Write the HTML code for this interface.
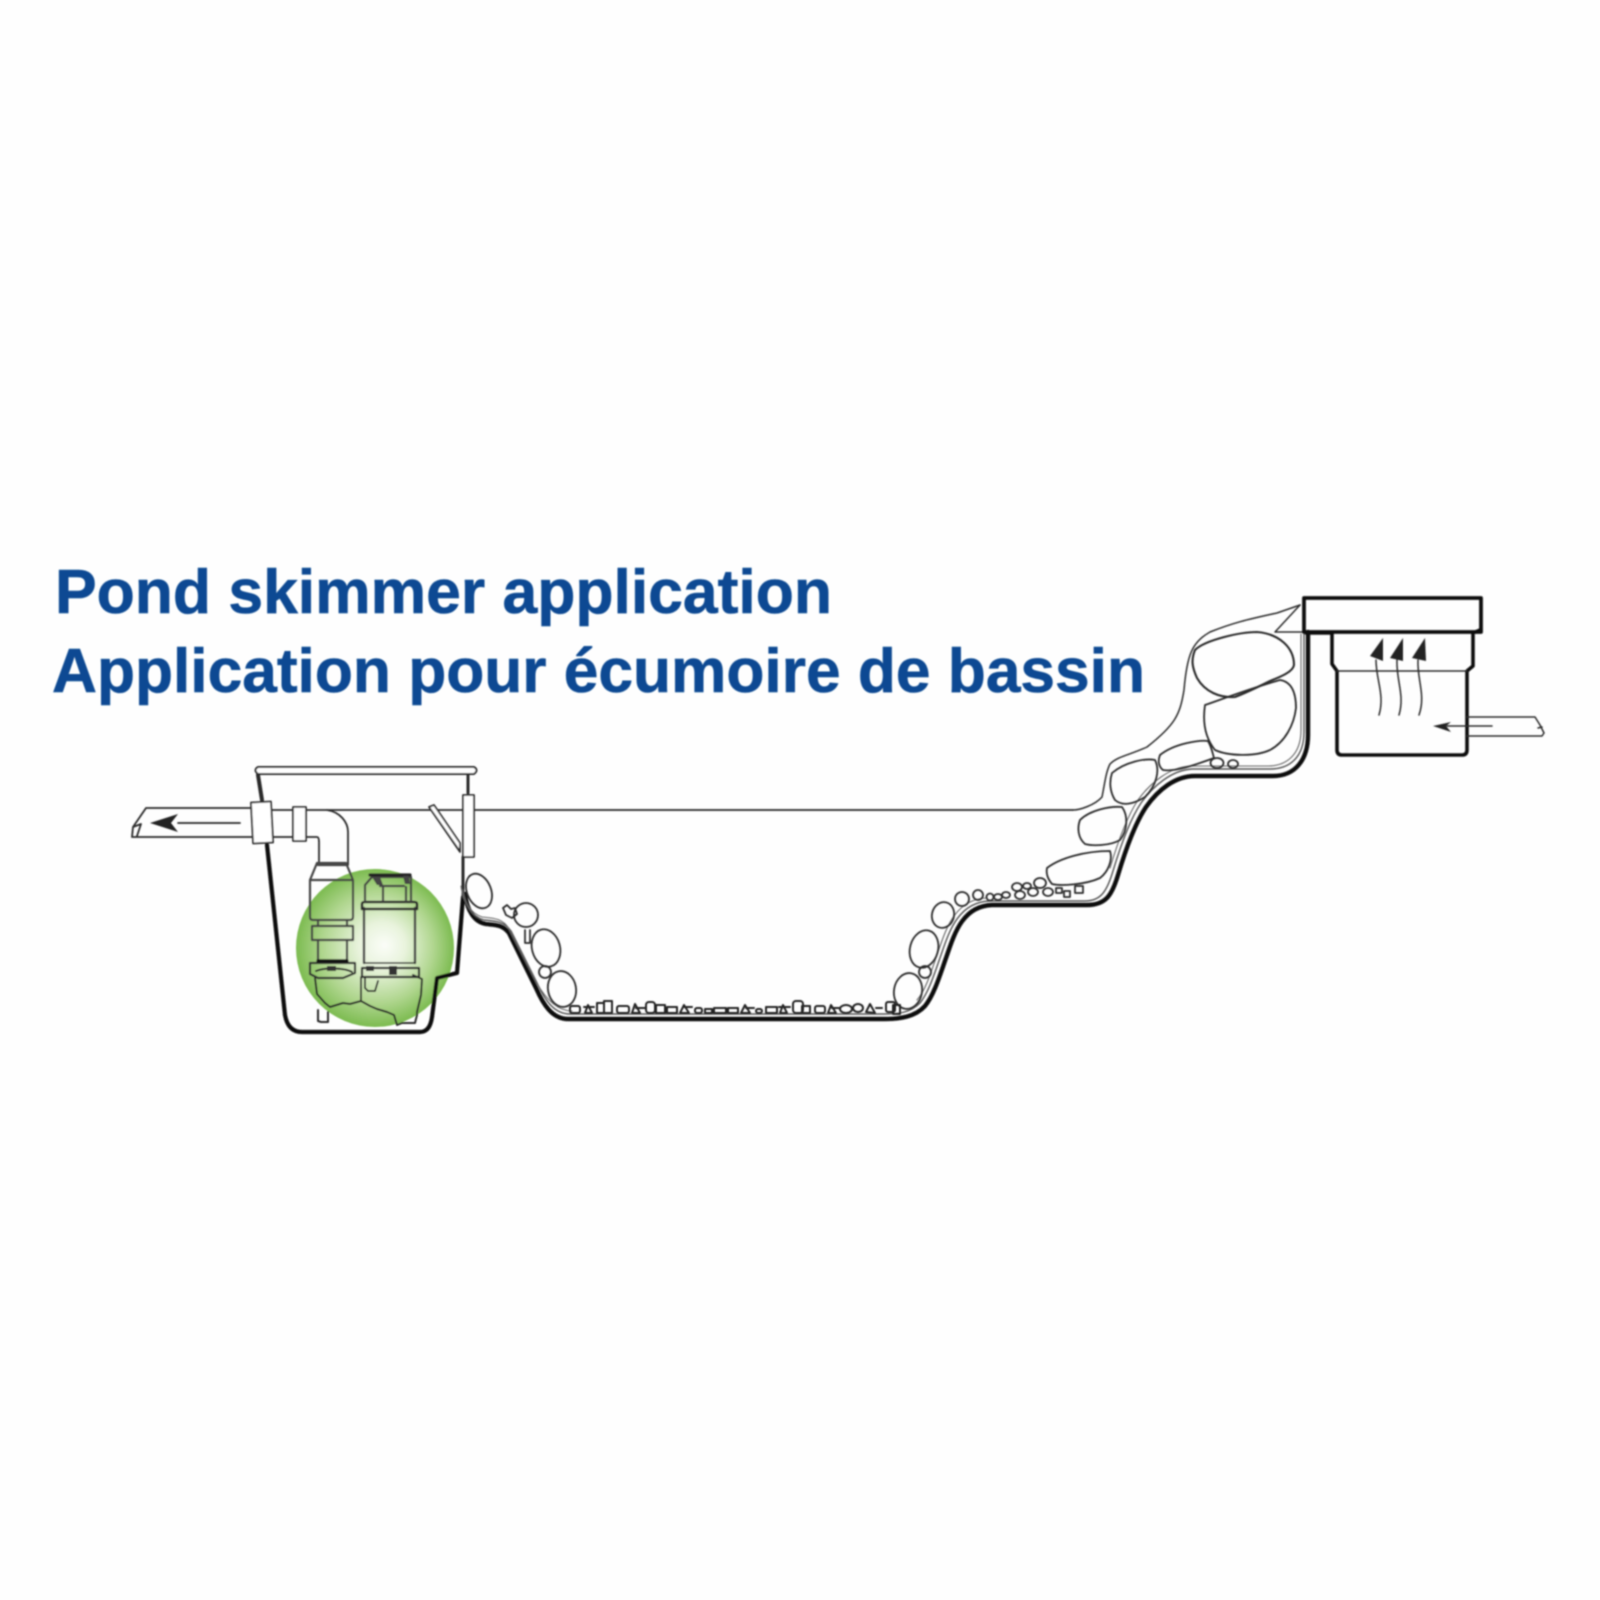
<!DOCTYPE html>
<html><head><meta charset="utf-8"><style>html,body{margin:0;padding:0;background:#fefefe}svg{display:block}</style></head><body>
<svg width="1600" height="1600" viewBox="0 0 1600 1600" xmlns="http://www.w3.org/2000/svg">
<defs>
<radialGradient id="g" gradientUnits="userSpaceOnUse" cx="375" cy="948" r="79" fx="385" fy="945"><stop offset="0" stop-color="#fbfdf8"/><stop offset=".3" stop-color="#e8f3dc"/><stop offset=".7" stop-color="#b0d68f"/><stop offset="1" stop-color="#7cbb50"/></radialGradient>
<filter id="b" x="-5%" y="-5%" width="110%" height="110%"><feGaussianBlur stdDeviation="0.75"/></filter>
</defs>
<rect width="1600" height="1600" fill="#fefefe"/>
<g filter="url(#b)">
<text x="55" y="613" font-family="'Liberation Sans',sans-serif" font-weight="700" font-size="62" fill="#0b4a93" stroke="#0b4a93" stroke-width=".6" textLength="777" lengthAdjust="spacingAndGlyphs">Pond skimmer application</text>
<text x="52" y="692" font-family="'Liberation Sans',sans-serif" font-weight="700" font-size="62" fill="#0b4a93" stroke="#0b4a93" stroke-width=".6" textLength="1093" lengthAdjust="spacingAndGlyphs">Application pour écumoire de bassin</text>

<circle cx="375" cy="948" r="79" fill="url(#g)"/>

<g fill="none" stroke="#2a2a2a" stroke-width="1.8" stroke-linejoin="round" stroke-linecap="round">
<!-- water line -->
<path d="M272 810H1073"/>
<!-- basin wall -->
<path d="M258 775L262 800" stroke-width="4"/>
<path d="M267 845L285 1015Q288 1032 302 1032H420Q430 1032 432 1017L437 978L457 973L463 897" stroke="#111" stroke-width="4.2"/>
<path d="M463 857V897M468 775V793" stroke-width="3"/>
<path d="M258 767H474Q479 770 474 774H258Q253 770 258 767Z" fill="#fff" stroke-width="2"/>
<!-- pipe -->
<path d="M252 808H146L133 827L132 837H252M133 827L141 824L137 836M272 837H293M306 837H317Q319 837 319 842V863M327 810C340 812 348 822 348 832V865"/>
<rect x="252" y="802" width="20" height="41" fill="#fff" transform="rotate(-3 262 822)"/>
<rect x="293" y="807" width="13" height="34" fill="#fff"/>
<path d="M240 823H178"/>
<path d="M150 823L178 814L171 823L178 832Z" fill="#222" stroke="none"/>
<!-- check valve -->
<path d="M429 807L434 805L460 843V852ZM429 807L459 850" fill="#fff"/>
<rect x="463" y="795" width="11" height="62" fill="#fff"/>
<!-- pipe to pump -->
<path d="M317 863H346L353 880H310ZM310 880H353V917Q353 920 350 920H313Q310 920 310 917ZM318 865H346M318 920V926M347 920V926M318 940V961M347 940V961" stroke-width="2.2" stroke="#444"/>
<rect x="312" y="926" width="41" height="14" stroke-width="2.2" stroke="#444"/>
<path d="M310 963H355V973L343 978H318L310 974Z" stroke-width="2.2" stroke="#333"/>
<path d="M318 961H347" stroke-width="3.4" stroke="#111"/>
<path d="M316 971C325 967 345 968 352 972" stroke-width="2"/>
<path d="M327 966h9v5h-9z" fill="#333" stroke="none"/>
<!-- pump -->
<path d="M364 908V963M415 908V963" stroke-width="2.4" stroke="#444"/>
<path d="M362 909V904Q362 902 365 902H414Q417 902 417 904V909Z" stroke-width="2.6"/>
<path d="M365 901V885L372 877H411V901M383 901V887M406 901V887M380 886H404" stroke-width="2.2" stroke="#444"/>
<path d="M370 875H410" stroke-width="3.2" stroke="#222"/>
<path d="M372 877l5 8h6l-3-8zM403 876l6 0 1 8h-5z" fill="#444" stroke="none"/>
<path d="M362 977V968H419V977Z" stroke-width="2.2"/>
<path d="M365 963H415" stroke-width="1.6"/>
<path d="M389 966h8v9h-8z" fill="#333" stroke="none"/>
<path d="M366 966h8v5h-8z" fill="#333" stroke="none"/>
<path d="M365 977V988L368 991H375L378 981M361 977V1001" stroke-width="1.8"/>
<path d="M315 978L317 994L325 1003L330 1007L343 1003L350 1004L361 1001L370 1006L377 1009L387 1012L394 1015L397 1025L402 1023L415 1023L417 1015L417 1012L421 995L422 979L413 975" stroke-width="2"/>
<path d="M318 1010V1021L321 1022H328V1012" stroke-width="2"/>

<!-- liner -->
<path d="M465 894C467 910 474 922 486 924C494 925 502 924 509 933L536 988C543 1004 552 1019 568 1019H884C900 1019 915 1017 925 1006C934 995 940 975 946 958C954 935 962 906 992 905H1087C1106 905 1112 895 1118 875C1124 855 1134 825 1146 807C1158 790 1175 776 1195 776H1273C1295 776 1308 760 1308 735V632" stroke="#111" stroke-width="4.4"/>
<path d="M463 890C465 905 472 917 484 920C494 921 504 921 511 931L538 985C545 1000 554 1014 570 1014H884C898 1014 910 1013 920 1003C929 992 935 972 941 955C949 932 958 902 990 901H1085C1101 901 1107 891 1113 871C1119 851 1129 821 1141 803C1153 786 1172 770 1192 769H1270C1290 769 1304 757 1304 732V634" stroke="#555" stroke-width="1.4"/>
<path d="M461 886C463 901 470 913 482 917C492 918 503 918 509 929L536 982C544 996 556 1011 572 1011M917 1000C926 990 932 969 938 952C946 929 955 899 987 898M1110 868C1116 848 1126 818 1138 800C1150 783 1170 767 1190 766H1268C1286 766 1301 755 1301 730V634" stroke="#666" stroke-width="1.1"/>

<!-- left rocks -->
<ellipse cx="479" cy="891" rx="12" ry="18" transform="rotate(-22 479 891)"/>
<circle cx="526" cy="915" r="12"/>
<ellipse cx="546" cy="948" rx="14" ry="19" transform="rotate(-15 546 948)"/>
<circle cx="545" cy="972" r="6"/>
<ellipse cx="562" cy="989" rx="14" ry="18" transform="rotate(-10 562 989)"/>
<path d="M503 908l4 -3 4 4 4-1 2 6-5 4-6-3zM525 930v13h5v-13"/>
<!-- right rocks -->
<ellipse cx="908" cy="991" rx="14" ry="18" transform="rotate(10 908 991)"/>
<circle cx="925" cy="972" r="6"/>
<ellipse cx="924" cy="949" rx="14" ry="19" transform="rotate(15 924 949)"/>
<ellipse cx="943" cy="915" rx="11" ry="13" transform="rotate(15 943 915)"/>
<circle cx="962" cy="899" r="7"/><circle cx="978" cy="895" r="5"/><circle cx="990" cy="897" r="3.5"/>
<!-- step pebbles -->
<ellipse cx="998" cy="897" rx="4" ry="3"/><ellipse cx="1006" cy="895" rx="4" ry="3"/><ellipse cx="1017" cy="887" rx="5" ry="4"/><ellipse cx="1020" cy="895" rx="5" ry="4"/><ellipse cx="1027" cy="886" rx="4" ry="3"/><ellipse cx="1033" cy="892" rx="5" ry="4"/><ellipse cx="1040" cy="883" rx="6" ry="5"/><ellipse cx="1048" cy="892" rx="5" ry="4"/><rect x="1056" y="888" width="6" height="5"/><rect x="1064" y="891" width="6" height="6"/><rect x="1075" y="886" width="8" height="7"/>
<!-- bottom pebbles -->
<g stroke-width="2" stroke="#222" transform="translate(0,-5)">
<rect x="570" y="1011" width="10" height="7" rx="2"/><path d="M585 1018l3-8 4 8zM584 1012h10"/><rect x="597" y="1008" width="7" height="10"/><path d="M604 1006h8v12h-8z"/><rect x="617" y="1011" width="12" height="7" rx="2"/><path d="M632 1018l3-9 5 9zM636 1013h9"/><rect x="646" y="1007" width="9" height="11" rx="3"/><rect x="656" y="1010" width="9" height="8"/><rect x="667" y="1012" width="10" height="6"/><path d="M680 1018l4-8 5 8zM684 1012h8"/><rect x="695" y="1013" width="7" height="5" rx="2"/><rect x="705" y="1014" width="7" height="4"/><rect x="714" y="1013" width="12" height="5"/><rect x="728" y="1013" width="10" height="5"/><path d="M741 1018l4-8 5 8zM746 1013h8"/><rect x="756" y="1014" width="6" height="4" rx="2"/><rect x="766" y="1012" width="11" height="6"/><path d="M780 1018l3-8 4 8zM779 1012h11"/><rect x="793" y="1006" width="10" height="12" rx="3"/><rect x="802" y="1011" width="8" height="7"/><rect x="815" y="1011" width="10" height="7" rx="2"/><path d="M828 1018l3-8 5 8zM832 1013h8"/><ellipse cx="846" cy="1014" rx="6" ry="4"/><ellipse cx="858" cy="1013" rx="5" ry="4"/><path d="M866 1017l4-8 5 9zM876 1013h6"/><rect x="886" y="1007" width="9" height="10" rx="2"/><rect x="893" y="1010" width="7" height="9"/>
</g>

<!-- upper landscaping -->
<path d="M1300 605L1277 613C1250 619 1235 622 1210 632C1192 642 1187 655 1184 690C1180 715 1175 725 1147 747C1130 755 1118 756 1110 764C1106 772 1105 782 1102 797C1095 805 1080 810 1073 810" stroke-width="1.5"/>
<path d="M1300 605L1275 632H1473" stroke-width="1.5"/>
<path d="M1195 650C1205 640 1240 632 1257 632C1280 634 1294 648 1294 665C1293 672 1280 677 1270 681C1258 687 1248 692 1235 697C1220 698 1205 692 1197 678C1192 667 1191 660 1195 650Z" stroke-width="2.1"/>
<path d="M1205 705C1220 700 1245 690 1280 680C1293 682 1296 695 1296 708C1294 725 1285 742 1270 750C1255 757 1228 756 1215 750C1207 740 1202 725 1205 705Z"/>
<path d="M1160 755C1175 743 1200 740 1208 741C1212 748 1213 755 1214 758C1195 765 1175 772 1163 770C1158 766 1158 760 1160 755Z"/>
<path d="M1112 773C1125 762 1145 758 1155 760C1160 770 1157 785 1145 797C1132 805 1122 806 1115 800C1110 792 1109 782 1112 773Z"/>
<path d="M1080 820C1090 810 1110 806 1122 807C1128 815 1128 830 1120 840C1110 846 1092 846 1085 844C1078 838 1077 828 1080 820Z"/>
<path d="M1047 868C1060 858 1085 851 1110 851C1113 860 1108 872 1100 878C1085 885 1060 886 1052 884C1047 878 1046 873 1047 868Z"/>
<ellipse cx="1217" cy="763" rx="6.5" ry="5"/><ellipse cx="1233" cy="764" rx="5" ry="4"/>

<!-- skimmer -->
<rect x="1304" y="598" width="177" height="34" stroke="#111" stroke-width="3.8"/>
<path d="M1306 633H1332V664L1337 671V750Q1337 755 1342 755H1462Q1467 755 1467 750V671L1473 666V633L1480 630" stroke="#111" stroke-width="3.6"/>
<path d="M1337 671H1467" stroke-width="1.5"/>
<path d="M1467 717H1535L1540 725L1544 733L1542 736H1467M1538 728L1542 727" stroke-width="1.5"/>
<path d="M1492 726H1447" stroke-width="1.5"/>
<path d="M1433 726L1451 722L1446 726L1451 732Z" fill="#222" stroke="none"/>
<path d="M1379 715C1385 695 1376 680 1376 660" stroke-width="1.5"/>
<path d="M1399 715C1405 695 1396 680 1397 660" stroke-width="1.5"/>
<path d="M1419 715C1426 695 1417 680 1418 660" stroke-width="1.5"/>
<path d="M1383 638L1370 656L1383 661Z" fill="#222" stroke="none"/>
<path d="M1403 638L1390 658L1403 661Z" fill="#222" stroke="none"/>
<path d="M1425 638L1412 658L1426 661Z" fill="#222" stroke="none"/>
</g>
</g>
</svg>
</body></html>
